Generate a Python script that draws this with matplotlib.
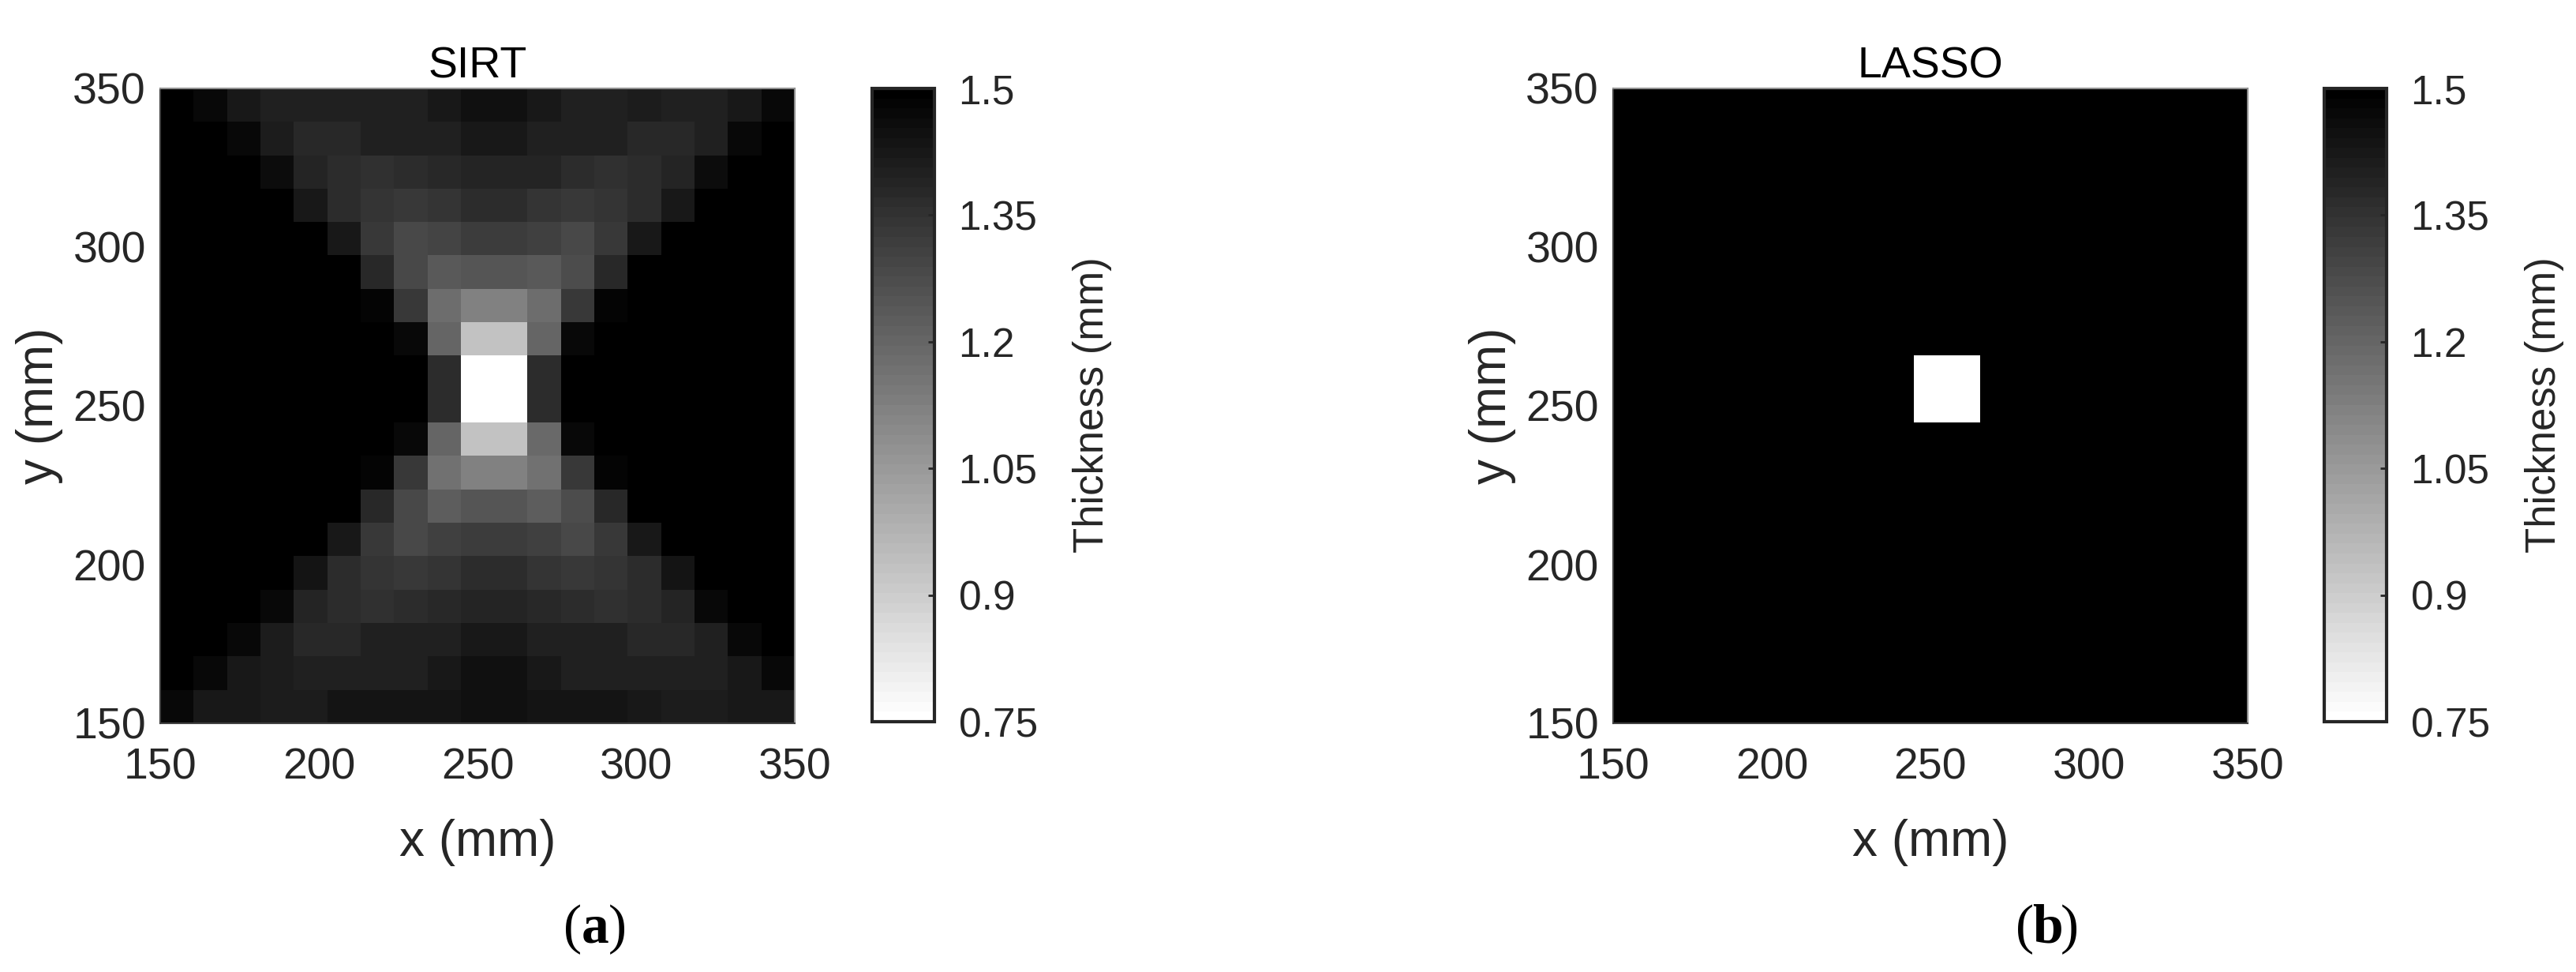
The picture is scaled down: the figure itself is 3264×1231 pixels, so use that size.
import numpy as np
import matplotlib
matplotlib.use("Agg")
import matplotlib.pyplot as plt

plt.rcParams['font.family'] = ['Liberation Sans', 'DejaVu Sans']

# ---------------------------------------------------------------
# data (thickness in mm, rows from top y=350 to bottom y=150)
sirt_rows = [
    [1.500, 1.471, 1.418, 1.403, 1.406, 1.406, 1.397, 1.397, 1.421, 1.444, 1.444, 1.424, 1.400, 1.400, 1.409, 1.403, 1.403, 1.424, 1.471],
    [1.500, 1.500, 1.471, 1.412, 1.376, 1.376, 1.400, 1.400, 1.400, 1.418, 1.418, 1.400, 1.400, 1.400, 1.376, 1.376, 1.400, 1.471, 1.500],
    [1.500, 1.500, 1.500, 1.462, 1.394, 1.365, 1.353, 1.371, 1.382, 1.388, 1.385, 1.388, 1.371, 1.353, 1.365, 1.394, 1.462, 1.500, 1.500],
    [1.500, 1.500, 1.500, 1.500, 1.429, 1.371, 1.344, 1.332, 1.341, 1.371, 1.371, 1.347, 1.335, 1.344, 1.371, 1.429, 1.500, 1.500, 1.500],
    [1.500, 1.500, 1.500, 1.500, 1.500, 1.421, 1.329, 1.288, 1.300, 1.318, 1.318, 1.303, 1.285, 1.329, 1.421, 1.500, 1.500, 1.500, 1.500],
    [1.500, 1.500, 1.500, 1.500, 1.500, 1.500, 1.382, 1.279, 1.232, 1.250, 1.250, 1.232, 1.276, 1.382, 1.500, 1.500, 1.500, 1.500, 1.500],
    [1.500, 1.500, 1.500, 1.500, 1.500, 1.500, 1.485, 1.335, 1.176, 1.124, 1.124, 1.176, 1.332, 1.485, 1.500, 1.500, 1.500, 1.500, 1.500],
    [1.500, 1.500, 1.500, 1.500, 1.500, 1.500, 1.500, 1.474, 1.200, 0.935, 0.935, 1.200, 1.476, 1.500, 1.500, 1.500, 1.500, 1.500, 1.500],
    [1.500, 1.500, 1.500, 1.500, 1.500, 1.500, 1.500, 1.500, 1.371, 0.750, 0.750, 1.371, 1.500, 1.500, 1.500, 1.500, 1.500, 1.500, 1.500],
    [1.500, 1.500, 1.500, 1.500, 1.500, 1.500, 1.500, 1.500, 1.371, 0.750, 0.750, 1.371, 1.500, 1.500, 1.500, 1.500, 1.500, 1.500, 1.500],
    [1.500, 1.500, 1.500, 1.500, 1.500, 1.500, 1.500, 1.476, 1.200, 0.929, 0.929, 1.194, 1.476, 1.500, 1.500, 1.500, 1.500, 1.500, 1.500],
    [1.500, 1.500, 1.500, 1.500, 1.500, 1.500, 1.485, 1.332, 1.171, 1.121, 1.121, 1.171, 1.329, 1.485, 1.500, 1.500, 1.500, 1.500, 1.500],
    [1.500, 1.500, 1.500, 1.500, 1.500, 1.491, 1.382, 1.279, 1.226, 1.247, 1.247, 1.229, 1.276, 1.382, 1.491, 1.500, 1.500, 1.500, 1.500],
    [1.500, 1.500, 1.500, 1.500, 1.500, 1.421, 1.329, 1.288, 1.303, 1.315, 1.315, 1.303, 1.285, 1.329, 1.421, 1.500, 1.500, 1.500, 1.500],
    [1.500, 1.500, 1.500, 1.500, 1.432, 1.368, 1.341, 1.329, 1.344, 1.368, 1.368, 1.341, 1.329, 1.341, 1.368, 1.441, 1.500, 1.500, 1.500],
    [1.500, 1.500, 1.500, 1.465, 1.391, 1.365, 1.350, 1.371, 1.382, 1.385, 1.385, 1.382, 1.371, 1.350, 1.365, 1.391, 1.465, 1.500, 1.500],
    [1.500, 1.500, 1.476, 1.409, 1.376, 1.376, 1.400, 1.400, 1.400, 1.418, 1.418, 1.400, 1.400, 1.400, 1.376, 1.376, 1.406, 1.476, 1.500],
    [1.500, 1.471, 1.421, 1.409, 1.406, 1.406, 1.400, 1.400, 1.424, 1.450, 1.447, 1.424, 1.400, 1.400, 1.406, 1.406, 1.406, 1.421, 1.471],
    [1.476, 1.421, 1.418, 1.409, 1.409, 1.438, 1.441, 1.441, 1.441, 1.450, 1.447, 1.441, 1.441, 1.441, 1.421, 1.409, 1.409, 1.418, 1.424],
]

# LASSO: uniform plate with one thin 2x2 defect
lasso_plate = 1.5
lasso_defect = 0.75
lasso_defect_rows = [8, 9]
lasso_defect_cols = [9, 10]

axis_ticks = [150, 200, 250, 300, 350]
cbar_ticks = [0.75, 0.9, 1.05, 1.2, 1.35, 1.5]
cbar_labels = ['0.75', '0.9', '1.05', '1.2', '1.35', '1.5']
titles = ['SIRT', 'LASSO']
panel_tags = ['a', 'b']

sirt = np.array(sirt_rows)
lasso = np.full(sirt.shape, lasso_plate)
for r in lasso_defect_rows:
    for c in lasso_defect_cols:
        lasso[r, c] = lasso_defect

# ---------------------------------------------------------------
W, H = 3264, 1231
fig = plt.figure(figsize=(W / 100, H / 100), dpi=100)
cmap = plt.get_cmap('gray_r', 64)

def px(x0, y0, w, h):
    # pixel box (top-left origin) -> figure fraction
    return [x0 / W, 1 - (y0 + h) / H, w / W, h / H]

ax_left = [203, 2044]
cb_left = [1105, 2945]
label_x = [754, 2594]
tag_y = 1 - 1177 / H
half = 17 / W   # half width of the bold letter

for k, data in enumerate([sirt, lasso]):
    ax = fig.add_axes(px(ax_left[k], 112, 804, 804))
    im = ax.imshow(data, cmap=cmap, vmin=0.75, vmax=1.5, extent=[150, 350, 150, 350],
                   origin='upper', interpolation='nearest', aspect='auto')
    ax.set_xlim(150, 350)
    ax.set_ylim(150, 350)
    ax.set_xticks(axis_ticks)
    ax.set_yticks(axis_ticks)
    ax.tick_params(length=0, labelsize=40, colors='#262626')
    ax.tick_params(axis='y', pad=13)
    ax.tick_params(axis='x', pad=22)
    for s in ax.spines.values():
        s.set_color('#404040')
        s.set_linewidth(1.5)
    ax.spines['top'].set_color('#909090')
    ax.spines['right'].set_color('#909090')
    ax.set_title(titles[k], fontsize=40, pad=10, color='#000000')
    ax.set_xlabel('x (mm)', fontsize=46, color='#262626')
    ax.set_ylabel('y (mm)', fontsize=46, color='#262626')
    ax.xaxis.set_label_coords(0.5, -0.151)
    ax.yaxis.set_label_coords(-0.153, 0.5)

    cax = fig.add_axes(px(cb_left[k], 112, 79, 802))
    cb = fig.colorbar(im, cax=cax)
    cb.set_ticks(cbar_ticks)
    cb.set_ticklabels(cbar_labels)
    cb.outline.set_linewidth(3)
    cb.outline.set_edgecolor('#262626')
    cax.tick_params(direction='in', length=6, width=2, labelsize=37, colors='#262626', pad=22)
    cb.set_label('Thickness (mm)', fontsize=38, color='#262626')
    cax.yaxis.set_label_coords(3.22, 0.5)

    xc = label_x[k] / W
    fig.text(xc - half, tag_y, '(', fontsize=50, family='Liberation Serif',
             ha='right', va='center')
    fig.text(xc, tag_y, panel_tags[k], fontsize=50, family='Liberation Serif',
             fontweight='bold', ha='center', va='center')
    fig.text(xc + half, tag_y, ')', fontsize=50, family='Liberation Serif',
             ha='left', va='center')

fig.savefig('out.png', dpi=100, facecolor='white')
